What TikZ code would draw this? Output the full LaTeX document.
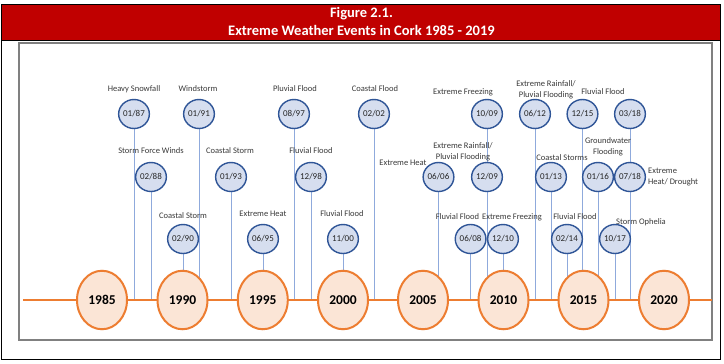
\documentclass[tikz,border=0pt]{standalone}
\usepackage{fontspec}
\setmainfont{Carlito}
\usetikzlibrary{shapes.geometric,backgrounds}
\definecolor{barred}{HTML}{C00000}
\definecolor{tlorange}{HTML}{ED7D31}
\definecolor{yrfill}{HTML}{FBE5D6}
\definecolor{evfill}{HTML}{D6DEEF}
\definecolor{evborder}{HTML}{2F5597}
\definecolor{conn}{HTML}{8FAADC}
\definecolor{labgray}{HTML}{3A3A3A}
\definecolor{boxgray}{HTML}{808080}
\begin{document}
\begin{tikzpicture}[x=1pt,y=-1pt,
 yearnode/.style={ellipse, draw=tlorange, line width=2pt, fill=yrfill, minimum width=50pt, minimum height=58.5pt, inner sep=0pt, font=\fontsize{13.5}{15}\selectfont\bfseries},
 evnode/.style={ellipse, draw=evborder, line width=1.4pt, fill=evfill, minimum width=25pt, minimum height=29pt, inner sep=0pt, font=\fontsize{9}{10}\selectfont, text=black!85},
 lab/.style={anchor=base, inner sep=0pt, font=\fontsize{8.5}{10}\selectfont, text=labgray},
 labl/.style={lab, anchor=base west},
 conline/.style={draw=conn, line width=0.9pt},
 titletext/.style={anchor=base, inner sep=0pt, text=white, font=\fontsize{14.5}{17}\selectfont\bfseries},
]
\useasboundingbox (0,0) rectangle (724,364);
% event circles
\node[evnode] (e0187) at (134,114) {01/87};
\node[evnode] (e0288) at (151,177) {02/88};
\node[evnode] (e0290) at (183,239) {02/90};
\node[evnode] (e0191) at (199,114) {01/91};
\node[evnode] (e0193) at (231,177) {01/93};
\node[evnode] (e0695) at (263,239) {06/95};
\node[evnode] (e0897) at (294,114) {08/97};
\node[evnode] (e1298) at (311,177) {12/98};
\node[evnode] (e1100) at (343,239) {11/00};
\node[evnode] (e0202) at (374,114) {02/02};
\node[evnode] (e0606) at (438.5,177) {06/06};
\node[evnode] (e0608) at (470.6,239) {06/08};
\node[evnode] (e1009) at (487,114) {10/09};
\node[evnode] (e1209) at (487,177) {12/09};
\node[evnode] (e1210) at (503,239) {12/10};
\node[evnode] (e0612) at (535,114) {06/12};
\node[evnode] (e0113) at (551,177) {01/13};
\node[evnode] (e0214) at (567,239) {02/14};
\node[evnode] (e1215) at (582.5,114) {12/15};
\node[evnode] (e0116) at (598,177) {01/16};
\node[evnode] (e1017) at (615,239) {10/17};
\node[evnode] (e0318) at (630,114) {03/18};
\node[evnode] (e0718) at (630,177) {07/18};
\coordinate (tlL) at (23,300);
\coordinate (tlR) at (712,300);
\begin{scope}[on background layer]
 \fill[white] (0,0) rectangle (724,364);
 \fill[barred] (1,4.3) rectangle (720,40.7);
 \draw[black, line width=1pt] (1,40.7) -- (720,40.7);
 \draw[black, line width=1pt] (1,4.3) rectangle (720,359);
 \draw[boxgray, line width=2pt] (19,43) rectangle (712,340);
 \foreach \e in {e0187,e0288,e0290,e0191,e0193,e0695,e0897,e1298,e1100,e0202,e0606,e0608,e1009,e1210,e0612,e0113,e0214,e1215,e0116,e1017,e0318}
   \draw[conline] (\e.south) -- (\e.south |- tlL);
 \draw[tlorange, line width=2pt] (tlL) -- (tlR);
\end{scope}
% year circles
\node[yearnode] (y1985) at (102,300) {1985};
\node[yearnode] (y1990) at (182.5,300) {1990};
\node[yearnode] (y1995) at (262.8,300) {1995};
\node[yearnode] (y2000) at (343,300) {2000};
\node[yearnode] (y2005) at (423,300) {2005};
\node[yearnode] (y2010) at (503.5,300) {2010};
\node[yearnode] (y2015) at (583.5,300) {2015};
\node[yearnode] (y2020) at (664,300) {2020};
% title
\node[titletext] (t1) at (361.5,17.6) {Figure 2.1.};
\node[titletext] (t2) at (361.5,35.2) {Extreme Weather Events in Cork 1985 - 2019};
% labels
\node[lab] (l0187) at (134,91.7) {Heavy Snowfall};
\node[lab] (l0288) at (151,153.7) {Storm Force Winds};
\node[lab] (l0290) at (183,218.5) {Coastal Storm};
\node[lab] (l0191) at (198,91.7) {Windstorm};
\node[lab] (l0193) at (230,153.7) {Coastal Storm};
\node[lab] (l0695) at (263,216.5) {Extreme Heat};
\node[lab] (l0897) at (295,91.7) {Pluvial Flood};
\node[lab] (l1298) at (311,153.7) {Fluvial Flood};
\node[lab] (l1100) at (342,216.5) {Fluvial Flood};
\node[lab] (l0202) at (375,91.7) {Coastal Flood};
\node[lab] (l0606) at (403,165.7) {Extreme Heat};
\node[lab] (l0608) at (457.5,219) {Fluvial Flood};
\node[lab] (l1009) at (463,94.7) {Extreme Freezing};
\node[lab] (l1209a) at (463,148.7) {Extreme Rainfall/};
\node[lab] (l1209b) at (463,159.7) {Pluvial Flooding};
\node[lab] (l1210) at (512,219) {Extreme Freezing};
\node[lab] (l0612a) at (546,86.7) {Extreme Rainfall/};
\node[lab] (l0612b) at (546,97.7) {Pluvial Flooding};
\node[lab] (l0113) at (562,160.7) {Coastal Storms};
\node[lab] (l0214) at (575,219) {Fluvial Flood};
\node[lab] (l1215) at (603,94.7) {Fluvial Flood};
\node[lab] (l0116a) at (608,143.7) {Groundwater};
\node[lab] (l0116b) at (608,154.7) {Flooding};
\node[lab] (l1017) at (641,224.7) {Storm Ophelia};
\node[labl] (l0718a) at (648,173.7) {Extreme};
\node[labl] (l0718b) at (648,184.7) {Heat/ Drought};
\end{tikzpicture}
\end{document}
